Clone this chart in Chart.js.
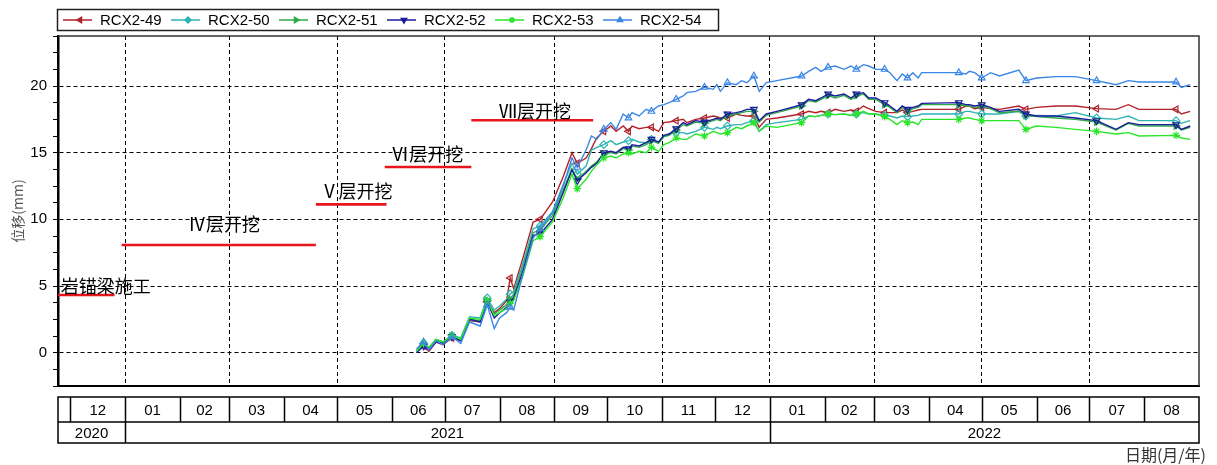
<!DOCTYPE html>
<html>
<head>
<meta charset="utf-8">
<script src="https://cdn.jsdelivr.net/npm/chart.js@4.4.0/dist/chart.umd.min.js"></script>
<style>
  html, body { margin: 0; padding: 0; background: #fff; }
  #wrap { width: 1217px; height: 465px; }
</style>
</head>
<body>
<div id="wrap"><canvas id="chart" width="1217" height="465"></canvas></div>
<script>
// Monitoring displacement of RCX2-49..54, with excavation phases and a month/year strip below.

const X_MIN = "2020-11-24";
const X_MAX = "2022-09-01";

const dates = [
  // Jun - Sep 2021
  "2021-06-15", "2021-06-19", "2021-06-22", "2021-06-26", "2021-06-30", "2021-07-05", "2021-07-10", "2021-07-15", "2021-07-21", "2021-07-25",
  "2021-07-29", "2021-08-01", "2021-08-05", "2021-08-07", "2021-08-09", "2021-08-14", "2021-08-20", "2021-08-24", "2021-08-31", "2021-09-06",
  "2021-09-11", "2021-09-14", "2021-09-19",
  // late Sep - Dec 2021
  "2021-09-22", "2021-09-25", "2021-09-29", "2021-10-03", "2021-10-06", "2021-10-10", "2021-10-13", "2021-10-15", "2021-10-19", "2021-10-23",
  "2021-10-26", "2021-10-30", "2021-11-02", "2021-11-05", "2021-11-09", "2021-11-13", "2021-11-15", "2021-11-20", "2021-11-25", "2021-11-30",
  "2021-12-02", "2021-12-04", "2021-12-08", "2021-12-13", "2021-12-16", "2021-12-19", "2021-12-23", "2021-12-26", "2021-12-30",
  // Jan - early May 2022
  "2022-01-05", "2022-01-19", "2022-01-23", "2022-01-27", "2022-01-30", "2022-02-03", "2022-02-07", "2022-02-12", "2022-02-16", "2022-02-19",
  "2022-02-23", "2022-02-26", "2022-03-02", "2022-03-07", "2022-03-10", "2022-03-14", "2022-03-17", "2022-03-20", "2022-03-23", "2022-03-26",
  "2022-03-28", "2022-04-18", "2022-04-22", "2022-04-24", "2022-04-27", "2022-05-01", "2022-05-06",
  // May - Aug 2022
  "2022-05-11", "2022-05-22", "2022-05-26", "2022-06-01", "2022-06-12", "2022-06-23", "2022-07-05", "2022-07-16", "2022-07-23", "2022-07-29",
  "2022-08-19", "2022-08-22", "2022-08-27",
];

const rcx49 = [
  0.1, 0.5, 0.1, 0.8, 0.6, 1.1, 0.9, 2.4, 2.3, 3.8, 3.0, 3.3, 3.9, 5.6, 4.8, 7.0, 9.8, 10.0, 11.3, 13.2, 15.0, 14.2, 14.6,
  15.3, 16.1, 16.6, 17.0, 16.6, 17.0, 16.6, 17.0, 16.8, 16.9, 16.9, 16.6, 17.25, 17.3, 17.4, 17.5, 17.25, 17.5, 17.6, 17.75,
  17.7, 17.6, 17.6, 17.9, 17.8, 17.75, 17.75, 16.9, 17.5,
  17.6, 17.9, 18.1, 18.0, 18.1, 18.0, 18.25, 18.1, 18.2, 18.1, 18.5, 18.3, 18.1, 18.0, 18.0, 18.0, 18.2, 18.0, 18.1, 18.2,
  18.25, 18.25, 18.5, 18.5, 18.3, 18.4, 18.3,
  18.25, 18.5, 18.25, 18.4, 18.5, 18.5, 18.3, 18.25, 18.6, 18.25, 18.25, 17.9, 18.1,
];
const rcx50 = [
  0.2, 0.7, 0.3, 1.0, 0.8, 1.3, 1.1, 2.7, 2.6, 4.1, 3.2, 3.5, 4.0, 4.4, 4.6, 6.6, 9.3, 9.5, 10.6, 12.6, 14.2, 13.4, 14.0,
  15.2, 15.4, 15.6, 15.9, 15.6, 15.8, 15.9, 16.0, 15.8, 15.75, 16.0, 15.75, 16.2, 16.4, 16.5, 16.5, 16.4, 16.6, 16.9, 16.75,
  16.9, 16.8, 17.0, 17.1, 17.1, 17.25, 17.4, 16.6, 17.1,
  17.25, 17.5, 17.75, 17.7, 17.8, 17.9, 17.85, 17.9, 17.8, 17.9, 18.0, 17.9, 17.9, 17.8, 17.75, 17.6, 17.75, 17.7, 17.75, 17.8,
  17.9, 17.9, 18.1, 18.1, 18.0, 17.9, 17.9,
  17.9, 18.1, 17.75, 17.8, 17.75, 18.0, 17.6, 17.5, 17.75, 17.4, 17.4, 17.2, 17.4,
];
const rcx51 = [
  0.1, 0.6, 0.3, 0.9, 0.7, 1.2, 0.9, 2.5, 2.4, 3.9, 2.9, 3.2, 3.6, 4.0, 4.3, 6.3, 9.0, 9.2, 10.3, 12.2, 13.8, 13.0, 13.6,
  14.0, 14.3, 14.9, 15.0, 14.9, 15.3, 15.2, 15.5, 15.4, 15.6, 15.9, 15.7, 16.2, 16.3, 16.7, 17.1, 17.0, 17.3, 17.2, 17.4,
  17.5, 17.4, 17.8, 17.9, 18.0, 18.1, 18.1, 17.3, 17.8,
  18.0, 18.5, 18.9, 18.8, 19.0, 19.3, 19.1, 19.3, 19.0, 19.3, 19.4, 19.0, 19.0, 18.6, 18.4, 18.0, 18.4, 18.1, 18.3, 18.4,
  18.6, 18.6, 18.5, 18.5, 18.4, 18.5, 18.3,
  18.0, 18.1, 17.8, 17.7, 17.6, 17.5, 17.3, 16.7, 17.2, 17.0, 17.0, 16.7, 16.9,
];
const rcx52 = [
  0.0, 0.5, 0.2, 0.8, 0.7, 1.2, 0.9, 2.5, 2.3, 3.8, 2.6, 3.0, 3.4, 3.8, 4.1, 6.0, 8.8, 8.9, 10.0, 12.0, 13.7, 12.9, 13.5,
  13.9, 14.2, 15.0, 15.1, 15.0, 15.4, 15.3, 15.6, 15.5, 15.75, 16.0, 15.8, 16.3, 16.4, 16.8, 17.25, 17.1, 17.4, 17.3, 17.5,
  17.6, 17.5, 17.9, 18.0, 18.1, 18.25, 18.25, 17.4, 17.9,
  18.1, 18.6, 19.0, 18.9, 19.1, 19.4, 19.25, 19.4, 19.1, 19.4, 19.5, 19.1, 19.1, 18.75, 18.5, 18.1, 18.5, 18.25, 18.4, 18.5,
  18.7, 18.75, 18.6, 18.6, 18.5, 18.6, 18.4,
  18.1, 18.25, 17.9, 17.75, 17.75, 17.6, 17.4, 16.75, 17.25, 17.1, 17.1, 16.75, 17.0,
];
const rcx53 = [
  0.1, 0.7, 0.4, 1.0, 0.8, 1.3, 1.0, 2.6, 2.5, 3.9, 2.8, 3.0, 3.3, 3.7, 3.9, 5.7, 8.4, 8.7, 9.8, 11.6, 13.4, 12.3, 13.0,
  13.6, 14.1, 14.6, 14.75, 14.6, 14.9, 15.0, 14.9, 15.1, 15.0, 15.4, 15.1, 15.6, 15.75, 16.1, 16.0, 16.0, 16.4, 16.25, 16.6,
  16.5, 16.4, 16.5, 16.9, 16.8, 17.0, 17.25, 16.6, 17.0,
  16.9, 17.25, 17.75, 17.7, 17.8, 17.9, 17.85, 17.9, 17.8, 17.9, 18.1, 17.9, 17.9, 17.7, 17.5, 17.1, 17.4, 17.25, 17.3, 17.1,
  17.5, 17.5, 17.6, 17.6, 17.5, 17.4, 17.4,
  17.4, 17.4, 16.75, 17.0, 16.9, 16.75, 16.6, 16.4, 16.5, 16.25, 16.3, 16.1, 16.0,
];
const rcx54 = [
  0.3, 0.8, 0.2, 0.9, 0.6, 1.2, 0.7, 2.3, 2.0, 3.6, 1.8, 2.6, 3.0, 3.4, 3.2, 5.8, 8.6, 9.3, 10.5, 12.5, 14.6, 13.9, 15.2,
  16.25, 16.0, 16.75, 17.25, 16.75, 17.9, 17.6, 18.0, 17.75, 18.25, 18.1, 18.5, 18.6, 18.75, 19.0, 19.25, 19.5, 19.6, 19.9, 19.75,
  20.1, 19.6, 20.25, 20.1, 20.4, 20.25, 20.75, 19.6, 20.25,
  20.4, 20.75, 21.1, 21.4, 21.1, 21.4, 21.5, 21.25, 21.5, 21.25, 21.6, 21.5, 21.25, 21.25, 21.0, 20.4, 20.9, 20.6, 21.0, 20.6,
  21.0, 21.0, 20.9, 21.1, 21.0, 20.6, 21.0,
  20.75, 21.2, 20.4, 20.6, 20.7, 20.7, 20.4, 20.1, 20.4, 20.3, 20.3, 19.9, 20.1,
];

// excavation phases: red bar from start to end at a level, label centred at labelAt/labelLevel
const phaseNames = ["岩锚梁施工", "Ⅳ层开挖", "Ⅴ层开挖", "Ⅵ层开挖", "Ⅶ层开挖"];
const phaseStart = ["2020-11-24", "2020-12-30", "2021-04-19", "2021-05-28", "2021-07-16"];
const phaseEnd = ["2020-12-26", "2021-04-19", "2021-05-29", "2021-07-16", "2021-09-23"];
const phaseLevel = [4.32, 8.07, 11.12, 13.92, 17.43];
const labelAt = ["2020-12-21", "2021-02-26", "2021-05-12", "2021-06-21", "2021-08-21"];
const labelLevel = [5.0, 9.62, 12.12, 14.88, 18.12];

// x grid every two months, strip below the plot
const gridDates = ["2021-01-01", "2021-03-01", "2021-05-01", "2021-07-01", "2021-09-01", "2021-11-01",
  "2022-01-01", "2022-03-01", "2022-05-01", "2022-07-01"];
const monthStarts = ["2020-12-01", "2021-01-01", "2021-02-01", "2021-03-01", "2021-04-01", "2021-05-01", "2021-06-01",
  "2021-07-01", "2021-08-01", "2021-09-01", "2021-10-01", "2021-11-01", "2021-12-01", "2022-01-01", "2022-02-01",
  "2022-03-01", "2022-04-01", "2022-05-01", "2022-06-01", "2022-07-01", "2022-08-01", "2022-09-01"];
const monthLabels = ["12", "01", "02", "03", "04", "05", "06", "07", "08", "09", "10", "11", "12",
  "01", "02", "03", "04", "05", "06", "07", "08"];
const yearLabels = ["2020", "2021", "2022"];
const yearBounds = [X_MIN, "2021-01-01", "2022-01-01", X_MAX];

const Y_MIN = -2.5, Y_MAX = 23.75, Y_STEP = 1.25;

const SERIES = [
  { label: "RCX2-49", data: rcx49, color: "#b1222b", style: "triangle", rot: 270, filled: false },
  { label: "RCX2-50", data: rcx50, color: "#2fb3b3", style: "rectRot", rot: 0, filled: false },
  { label: "RCX2-51", data: rcx51, color: "#2eaa46", style: "triangle", rot: 90, filled: true },
  { label: "RCX2-52", data: rcx52, color: "#1b1b9e", style: "triangle", rot: 180, filled: false },
  { label: "RCX2-53", data: rcx53, color: "#2ae62a", style: "star", rot: 0, filled: false },
  { label: "RCX2-54", data: rcx54, color: "#3a86e6", style: "triangle", rot: 0, filled: false },
];

const FONT_LATIN = '"Liberation Sans", Arial, sans-serif';
const FONT_CJK = '"Noto Sans CJK SC", sans-serif';
const TABLE_TOP = 397, TABLE_MID = 422, TABLE_BOTTOM = 443;

function dayNum(s) {
  const [y, m, d] = s.split("-").map(Number);
  return (Date.UTC(y, m - 1, d || 1) - Date.UTC(2021, 0, 1)) / 864e5;
}

const seriesSets = SERIES.map((s, i) => ({
  label: s.label,
  data: dates.map((d, k) => ({ x: dayNum(d), y: s.data[k] })),
  borderColor: s.color,
  backgroundColor: s.color,
  borderWidth: 1.4,
  pointStyle: s.style,
  pointRotation: s.rot,
  pointBorderColor: s.color,
  pointBackgroundColor: s.filled ? s.color : "rgba(255,255,255,0)",
  pointBorderWidth: 1.2,
  pointRadius: ctx => (ctx.dataIndex % 4 === 1 ? 3.8 : 0),
  tension: 0,
  order: 10 - i,
}));

const phaseSets = phaseNames.map((name, i) => ({
  label: name,
  data: [{ x: dayNum(phaseStart[i]), y: phaseLevel[i] }, { x: dayNum(phaseEnd[i]), y: phaseLevel[i] }],
  borderColor: "#e8161c",
  borderWidth: 2.6,
  pointRadius: 0,
  order: 20,
}));

const decor = {
  id: "decor",
  afterDraw(chart) {
    const { ctx, chartArea: a } = chart;
    const xs = chart.scales.x, ys = chart.scales.y;
    const px = s => xs.getPixelForValue(dayNum(s));
    ctx.save();

    // top / right frame
    ctx.strokeStyle = "#333";
    ctx.lineWidth = 1.5;
    ctx.beginPath();
    ctx.moveTo(a.left, a.top);
    ctx.lineTo(a.right, a.top);
    ctx.lineTo(a.right, a.bottom);
    ctx.stroke();

    // phase labels
    ctx.fillStyle = "#000";
    ctx.font = "18px " + FONT_CJK;
    ctx.textAlign = "center";
    ctx.textBaseline = "middle";
    phaseNames.forEach((n, i) => ctx.fillText(n, px(labelAt[i]), ys.getPixelForValue(labelLevel[i])));

    // month / year strip
    const L = px(X_MIN), R = px(X_MAX);
    ctx.strokeStyle = "#000";
    ctx.lineWidth = 1.5;
    ctx.strokeRect(L, TABLE_TOP, R - L, TABLE_BOTTOM - TABLE_TOP);
    ctx.beginPath();
    ctx.moveTo(L, TABLE_MID);
    ctx.lineTo(R, TABLE_MID);
    monthStarts.slice(0, -1).forEach(m => {
      const x = Math.round(px(m)) + 0.5;
      ctx.moveTo(x, TABLE_TOP);
      ctx.lineTo(x, TABLE_MID);
    });
    yearBounds.slice(1, -1).forEach(y => {
      const x = Math.round(px(y)) + 0.5;
      ctx.moveTo(x, TABLE_TOP);
      ctx.lineTo(x, TABLE_BOTTOM);
    });
    ctx.stroke();
    ctx.font = "15px " + FONT_LATIN;
    monthLabels.forEach((lab, i) => {
      ctx.fillText(lab, (px(monthStarts[i]) + px(monthStarts[i + 1])) / 2, (TABLE_TOP + TABLE_MID) / 2 + 1);
    });
    yearLabels.forEach((lab, i) => {
      ctx.fillText(lab, (px(yearBounds[i]) + px(yearBounds[i + 1])) / 2, (TABLE_MID + TABLE_BOTTOM) / 2 + 1);
    });

    ctx.fillStyle = "#333";
    ctx.font = "16px " + FONT_CJK;
    ctx.textAlign = "right";
    ctx.fillText("日期(月/年)", 1206, 455);

    // legend
    ctx.strokeStyle = "#222";
    ctx.lineWidth = 1.5;
    ctx.strokeRect(57.5, 9.5, 661, 21);
    ctx.font = "15px " + FONT_LATIN;
    ctx.textAlign = "left";
    SERIES.forEach((s, i) => {
      const x0 = 63 + i * 108, y0 = 20;
      ctx.strokeStyle = s.color;
      ctx.lineWidth = 1.5;
      ctx.beginPath();
      ctx.moveTo(x0, y0);
      ctx.lineTo(x0 + 29, y0);
      ctx.stroke();
      ctx.fillStyle = s.color;
      Chart.helpers.drawPoint(ctx, { pointStyle: s.style, rotation: s.rot, radius: 3, borderWidth: 1.2 }, x0 + 17, y0);
      ctx.fillStyle = "#000";
      ctx.fillText(s.label, x0 + 37, y0 + 1);
    });
    ctx.restore();
  },
};

new Chart(document.getElementById("chart"), {
  type: "line",
  data: { datasets: [...seriesSets, ...phaseSets] },
  options: {
    responsive: false,
    devicePixelRatio: 1,
    animation: false,
    events: [],
    layout: { padding: { left: 0, top: 36, right: 18, bottom: 79 } },
    plugins: { legend: { display: false }, tooltip: { enabled: false } },
    scales: {
      x: {
        type: "linear",
        min: dayNum(X_MIN),
        max: dayNum(X_MAX),
        afterBuildTicks: s => { s.ticks = gridDates.map(d => ({ value: dayNum(d) })); },
        afterFit: s => { s.height = 0; },
        ticks: { display: false },
        grid: { color: "#000", lineWidth: 1, drawTicks: false },
        border: { display: true, color: "#000", width: 2, dash: [4, 3] },
      },
      y: {
        min: Y_MIN,
        max: Y_MAX,
        ticks: {
          stepSize: Y_STEP,
          autoSkip: false,
          padding: 6,
          color: "#000",
          font: { family: FONT_LATIN, size: 15 },
          callback: v => (v % 5 === 0 ? String(v) : ""),
        },
        afterFit: s => { s.width = 58; },
        title: {
          display: true,
          text: "位移(mm)",
          color: "#555",
          font: { family: FONT_CJK, size: 14 },
          padding: { top: 9, bottom: 0 },
        },
        grid: {
          color: ctx => (ctx.tick && ctx.tick.value % 5 === 0 ? "#000" : "rgba(0,0,0,0)"),
          lineWidth: 1,
          tickColor: "#000",
          tickLength: 5,
        },
        border: { display: true, color: "#000", width: 2.5, dash: [4, 3] },
      },
    },
  },
  plugins: [decor],
});
</script>
</body>
</html>
